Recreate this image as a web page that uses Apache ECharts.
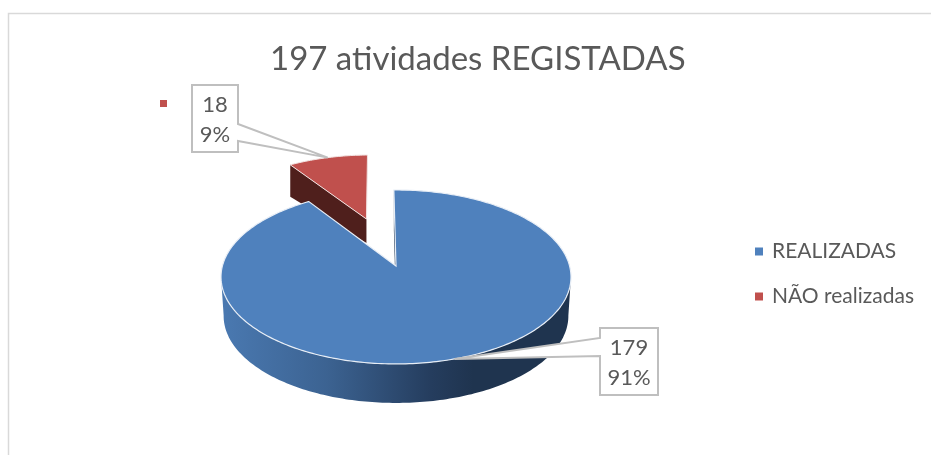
<!DOCTYPE html>
<html>
<head>
<meta charset="utf-8">
<title>197 atividades REGISTADAS</title>
<style>
  html, body { margin: 0; padding: 0; background: #fff; }
  #chart { width: 931px; height: 455px; }
</style>
<script src="https://cdn.jsdelivr.net/npm/echarts@6/dist/echarts.min.js"></script>
</head>
<body>
<div id="chart"></div>
<script>
var titleText = '197 atividades REGISTADAS';
var categories = ['REALIZADAS', 'NÃO realizadas'];
var values = [179, 18];

var FONT = 'Lato, "Noto Sans", sans-serif';
var TEXT_COLOR = '#595959';
var BOX_COLOR = '#BFBFBF';

// pie seen in perspective: disc coords (u, v) go through a small homography
var PIE = { cx: 396, cy: 266, rx: 173.6, ry: 85.6, k: 0.126, depth: 39, bottomScale: 0.985, startAngle: -0.8 };

// per slice look: explode/radius are in disc units, box is the callout rectangle
var sliceStyle = [
  { top: '#4F81BD', explode: 0, radius: 1, box: [600, 328, 58, 67] },
  { top: '#C0504D', explode: 0.617, radius: 0.96, box: [192, 85, 46, 67], side: '#4F1F1C',
    depthFar: 32, depthNear: 24, key: [160, 100, 7, 7] }
];

var total = values.reduce(function (a, b) { return a + b; }, 0);

function project(u, v) {
  var w = 1 + PIE.k * v;
  return [PIE.cx + PIE.rx * u / w, PIE.cy - PIE.ry * v / w];
}

// angles clockwise from 12 o'clock
function sliceAngles(index) {
  var a = PIE.startAngle;
  for (var i = 0; i < index; i++) a += values[i] / total * 360;
  return [a, a + values[index] / total * 360];
}

function rimPoint(index, deg) {
  var st = sliceStyle[index];
  var ang = sliceAngles(index);
  var mid = (ang[0] + ang[1]) / 2 * Math.PI / 180;
  var rad = deg * Math.PI / 180;
  return project(
    st.explode * Math.sin(mid) + st.radius * Math.sin(rad),
    st.explode * Math.cos(mid) + st.radius * Math.cos(rad)
  );
}

function apexPoint(index) {
  var st = sliceStyle[index];
  var ang = sliceAngles(index);
  var mid = (ang[0] + ang[1]) / 2 * Math.PI / 180;
  return project(st.explode * Math.sin(mid), st.explode * Math.cos(mid));
}

function topSurface(index) {
  var ang = sliceAngles(index);
  var pts = [apexPoint(index)];
  for (var d = ang[0]; d < ang[1]; d += 1) pts.push(rimPoint(index, d));
  pts.push(rimPoint(index, ang[1]));
  return pts;
}

function frontWall() {
  var upper = [], lower = [];
  for (var d = 97; d <= 263; d += 1) {
    var p = rimPoint(0, d);
    upper.push(p);
    lower.unshift([PIE.cx + (p[0] - PIE.cx) * PIE.bottomScale, p[1] + PIE.depth]);
  }
  return upper.concat(lower);
}

function callout(index) {
  var st = sliceStyle[index];
  var ang = sliceAngles(index);
  var tip = rimPoint(index, (ang[0] + ang[1]) / 2);
  var b = st.box;
  var x0 = b[0], y0 = b[1], x1 = b[0] + b[2], y1 = b[1] + b[3];
  // the pointer leaves from whichever side faces the slice
  var pts;
  if (tip[0] > x1) {
    pts = [[x0, y0], [x1, y0], [x1, y0 + 39], tip, [x1, y0 + 56], [x1, y1], [x0, y1]];
  } else {
    pts = [[x0, y0], [x1, y0], [x1, y1], [x0, y1], [x0, y0 + 28], tip, [x0, y0 + 10]];
  }
  var pct = Math.round(values[index] / total * 100) + '%';
  var cx = (x0 + x1) / 2;
  var out = [
    { type: 'polygon', shape: { points: pts }, style: { fill: '#fff', stroke: BOX_COLOR, lineWidth: 2 } },
    { type: 'text', style: { text: String(values[index]), x: cx, y: y0 + 19.5, align: 'center', verticalAlign: 'middle', fontSize: 22, fontFamily: FONT, fill: TEXT_COLOR } },
    { type: 'text', style: { text: pct, x: cx, y: y0 + 50, align: 'center', verticalAlign: 'middle', fontSize: 22, fontFamily: FONT, fill: TEXT_COLOR } }
  ];
  return out;
}

function renderBlue() {
  var ang = sliceAngles(0);
  var edge = rimPoint(0, ang[0]);
  var apex = apexPoint(0);
  var wallFill = new echarts.graphic.LinearGradient(0, 0, 1, 0, [
    { offset: 0, color: '#4A79B1' },
    { offset: 0.3, color: '#3C6392' },
    { offset: 0.6, color: '#253D5E' },
    { offset: 0.72, color: '#1F344F' },
    { offset: 1, color: '#1F344F' }
  ]);
  var children = [
    { type: 'polygon', shape: { points: frontWall() }, style: { fill: wallFill } },
    // thin inner wall seen through the gap
    { type: 'polygon', shape: { points: [edge, apex, [apex[0], apex[1] + PIE.depth], [edge[0], edge[1] + PIE.depth]] }, style: { fill: '#1F344F' } },
    { type: 'polygon', shape: { points: topSurface(0) }, style: { fill: sliceStyle[0].top, stroke: '#E8EEF6', lineWidth: 1.2 } }
  ];
  return { type: 'group', children: children.concat(callout(0)) };
}

function renderRed() {
  var st = sliceStyle[1];
  var ang = sliceAngles(1);
  var far = rimPoint(1, ang[0]);
  var apex = apexPoint(1);
  var children = [
    { type: 'polygon', shape: { points: [far, apex, [apex[0], apex[1] + st.depthNear], [far[0], far[1] + st.depthFar]] }, style: { fill: st.side } },
    { type: 'polygon', shape: { points: topSurface(1) }, style: { fill: st.top, stroke: '#F2E2E1', lineWidth: 1 } },
    { type: 'rect', shape: { x: st.key[0], y: st.key[1], width: st.key[2], height: st.key[3] }, style: { fill: st.top } }
  ];
  return { type: 'group', children: children.concat(callout(1)) };
}

var myChart = echarts.init(document.getElementById('chart'), null, { renderer: 'canvas' });

var option = {
  backgroundColor: '#fff',
  animation: false,
  title: {
    text: titleText,
    left: 265,
    top: 38,
    textStyle: { fontFamily: FONT, fontSize: 33, fontWeight: 'normal', color: TEXT_COLOR }
  },
  legend: {
    data: categories,
    orient: 'vertical',
    left: 750,
    top: 236,
    icon: 'rect',
    itemWidth: 8,
    itemHeight: 8,
    itemGap: 24,
    textStyle: { fontFamily: FONT, fontSize: 21, color: TEXT_COLOR, padding: [0, 0, 0, 4] },
    selectedMode: false
  },
  graphic: [
    { type: 'polyline', shape: { points: [[8.5, 455], [8.5, 13.5], [931, 13.5]] }, style: { fill: null, stroke: '#D9D9D9', lineWidth: 1.5 }, silent: true }
  ],
  series: [
    { type: 'custom', name: categories[0], coordinateSystem: 'none', z: 3, itemStyle: { color: sliceStyle[0].top }, data: [values[0]], renderItem: renderBlue },
    { type: 'custom', name: categories[1], coordinateSystem: 'none', z: 2, itemStyle: { color: sliceStyle[1].top }, data: [values[1]], renderItem: renderRed }
  ]
};

myChart.setOption(option);
</script>
</body>
</html>
